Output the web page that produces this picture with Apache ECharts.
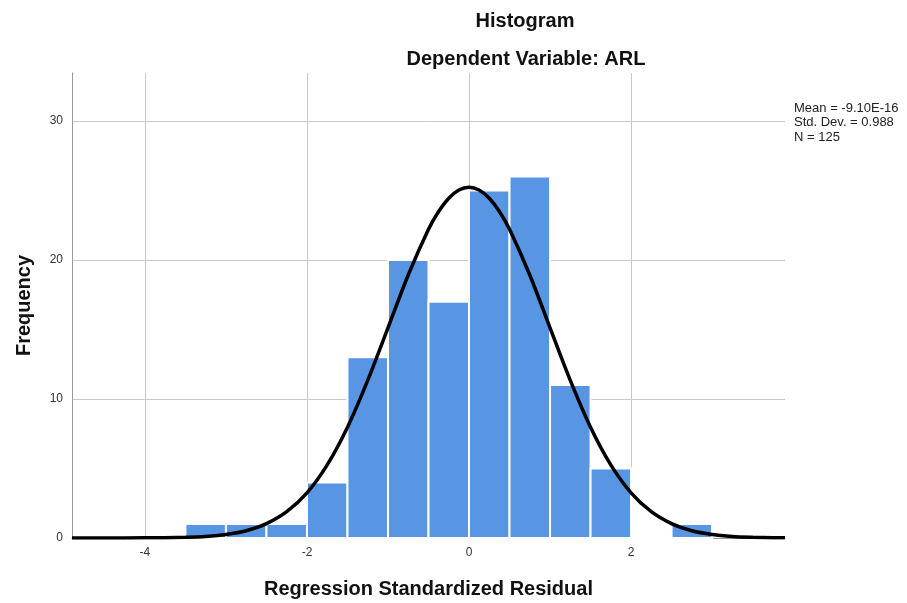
<!DOCTYPE html>
<html>
<head>
<meta charset="utf-8">
<script src="https://cdn.jsdelivr.net/npm/echarts@6/dist/echarts.min.js"></script>
<style>html,body{margin:0;padding:0;background:#fff}#c{width:907px;height:603px}</style>
</head>
<body>
<div id="c"></div>
<script>
// Histogram bins (start of each bin, width 0.5) and frequencies
var binStarts = [-3.5, -3.0, -2.5, -2.0, -1.5, -1.0, -0.5, 0.0, 0.5, 1.0, 1.5, 2.0, 2.5];
var counts    = [1, 1, 1, 4, 13, 20, 17, 25, 26, 11, 5, 0, 1];
var binWidth = 0.5;
// Normal curve points
var curveX = [-4.9, -4.5, -4.0, -3.75, -3.5, -3.25, -3.0, -2.75, -2.5, -2.25, -2.0, -1.75, -1.5, -1.25, -1.0, -0.75, -0.5, -0.375, -0.25, -0.125, 0.0, 0.125, 0.25, 0.375, 0.5, 0.75, 1.0, 1.25, 1.5, 1.75, 2.0, 2.25, 2.5, 2.75, 3.0, 3.25, 3.5, 3.75, 3.9];
var curveY = [0.0, 0.0, 0.01, 0.02, 0.05, 0.11, 0.25, 0.52, 1.03, 1.89, 3.25, 5.26, 7.97, 11.34, 15.12, 18.92, 22.21, 23.49, 24.44, 25.04, 25.24, 25.04, 24.44, 23.49, 22.21, 18.92, 15.12, 11.34, 7.97, 5.26, 3.25, 1.89, 1.03, 0.52, 0.25, 0.11, 0.05, 0.02, 0.01];
var xTicks = [-4, -2, 0, 2];
var yTicks = [0, 10, 20, 30];
var statsLines = ['Mean = -9.10E-16', 'Std. Dev. = 0.988', 'N = 125'];

var FONT = 'Liberation Sans, Arial, sans-serif';
var chart = echarts.init(document.getElementById('c'));

var barData = binStarts.map(function (s, i) { return [s, s + binWidth, counts[i]]; });
var lineData = curveX.map(function (x, i) { return [x, curveY[i]]; });

chart.setOption({
  animation: false,
  backgroundColor: '#fff',
  title: [
    { text: 'Histogram', left: 520, top: 6, textAlign: 'center',
      textStyle: { fontFamily: FONT, fontSize: 20, fontWeight: 'bold', color: '#111' } },
    { text: 'Dependent Variable: ARL', left: 521, top: 44, textAlign: 'center',
      textStyle: { fontFamily: FONT, fontSize: 20, fontWeight: 'bold', color: '#111' } }
  ],
  grid: { left: 72, right: 122, top: 73, bottom: 65, containLabel: false, outerBoundsMode: 'none' },
  xAxis: {
    type: 'value', min: -4.9, max: 3.9,
    name: 'Regression Standardized Residual', nameLocation: 'middle', nameGap: 41,
    nameTextStyle: { fontFamily: FONT, fontSize: 20, fontWeight: 'bold', color: '#111' },
    axisLine: { show: true, onZero: false, lineStyle: { color: '#999', width: 1 } },
    axisTick: { show: false, customValues: xTicks },
    axisLabel: { customValues: xTicks, fontFamily: FONT, fontSize: 12, color: '#333', margin: 9 },
    splitLine: { show: true, lineStyle: { color: '#c8c8c8', width: 1 } }
  },
  yAxis: {
    type: 'value', min: 0, max: 33.45,
    name: 'Frequency', nameLocation: 'middle', nameGap: 38, nameRotate: 90,
    nameTextStyle: { fontFamily: FONT, fontSize: 20, fontWeight: 'bold', color: '#111' },
    axisLine: { show: true, onZero: false, lineStyle: { color: '#999', width: 1 } },
    axisTick: { show: false, customValues: yTicks },
    axisLabel: { customValues: yTicks, fontFamily: FONT, fontSize: 12, color: '#333', margin: 9, padding: [3, 0, 0, 0] },
    splitLine: { show: true, lineStyle: { color: '#c8c8c8', width: 1 } }
  },
  graphic: [{
    type: 'text', left: 794, top: 101,
    style: { text: statsLines.join('\n'), font: '13px ' + FONT, fill: '#222', lineHeight: 14.5 }
  }],
  series: [
    {
      type: 'custom',
      data: barData,
      renderItem: function (params, api) {
        var p0 = api.coord([api.value(0), api.value(2)]);
        var p1 = api.coord([api.value(1), 0]);
        return {
          type: 'rect',
          shape: { x: p0[0], y: p0[1], width: p1[0] - p0[0], height: p1[1] - p0[1] },
          style: { fill: '#5895e3', stroke: '#ffffff', lineWidth: 2 }
        };
      },
      encode: { x: [0, 1], y: 2 },
      z: 2
    },
    {
      type: 'line', data: lineData, smooth: 0.3, showSymbol: false,
      lineStyle: { color: '#000', width: 3.5 }, z: 3
    }
  ]
});
</script>
</body>
</html>
